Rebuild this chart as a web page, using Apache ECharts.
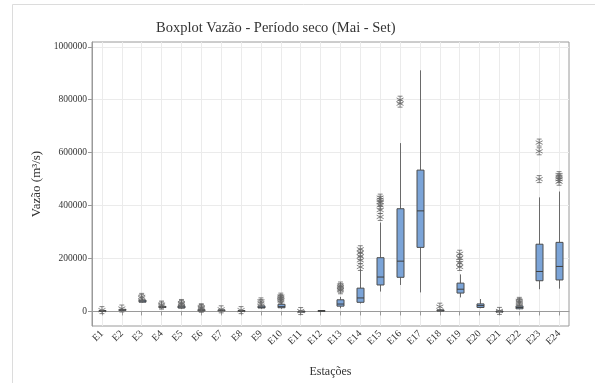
<!DOCTYPE html>
<html>
<head>
<meta charset="utf-8">
<script src="https://cdn.jsdelivr.net/npm/echarts@6/dist/echarts.min.js"></script>
<style>
html,body{margin:0;padding:0;background:#fff;}
#c{width:595px;height:383px;}
</style>
</head>
<body>
<div id="c"></div>
<script>
const categories = ['E1','E2','E3','E4','E5','E6','E7','E8','E9','E10','E11','E12','E13','E14','E15','E16','E17','E18','E19','E20','E21','E22','E23','E24'];
const whiskerLow = [500, 2000, 33000, 13000, 10000, 500, 1000, 500, 10000, 10000, 0, 1500, 12000, 30000, 75000, 100000, 72000, 0, 53000, 12000, 0, 8000, 84000, 86000];
const q1Values = [1500, 4000, 35000, 15000, 13000, 2000, 3000, 1500, 13000, 14000, 300, 2500, 20000, 34500, 100000, 129000, 242000, 1500, 69500, 15000, 500, 10000, 116000, 119000];
const medianValues = [2500, 6000, 39000, 17000, 17000, 4000, 4000, 2500, 16000, 18000, 600, 3000, 28000, 51000, 130000, 190000, 380000, 3000, 84000, 22000, 1000, 15000, 151000, 170000];
const q3Values = [3500, 8000, 43000, 19000, 21000, 7000, 6000, 3500, 21000, 27000, 1000, 3500, 44000, 88000, 203000, 388000, 534000, 6000, 107000, 28500, 1500, 21000, 254000, 261000];
const whiskerHigh = [5000, 11000, 47000, 22000, 26000, 9000, 8000, 5000, 28000, 35000, 1500, 4500, 55000, 160000, 336000, 636000, 911000, 10000, 140000, 47000, 2500, 27000, 431000, 453000];
const outliers = [
  [5000], [11000], [50000, 55000], [22000, 26000], [26000, 29000, 32000],
  [10000, 13000, 16000], [8000], [5000], [32000, 38000], [42000, 47000, 51000, 56000],
  [1500], [], [80000, 86000, 92000, 98000], [168000, 193000, 208000, 222000, 235000],
  [357000, 383000, 401000, 413000, 422000, 430000], [785000, 800000], [], [18000],
  [168000, 183000, 202000, 218000], [], [2000], [32000, 36000, 40000],
  [500000, 605000, 638000], [490000, 500000, 508000, 515000]
];
const yTicks = [0, 200000, 400000, 600000, 800000, 1000000];

const boxData = categories.map((c, i) => [i, whiskerLow[i], q1Values[i], medianValues[i], q3Values[i], whiskerHigh[i]]);
const outlierData = [];
outliers.forEach((arr, i) => arr.forEach(v => outlierData.push([i, v])));

const serif = '"Liberation Serif", "DejaVu Serif", serif';
const chart = echarts.init(document.getElementById('c'), null, {renderer: 'canvas'});
const starPath = 'path://M5,0L5,10M0.7,2.5L9.3,7.5M0.7,7.5L9.3,2.5M2,0L8,0M2,10L8,10';

chart.setOption({
  animation: false,
  backgroundColor: '#fff',
  title: {
    text: 'Boxplot Vazão - Período seco (Mai - Set)',
    left: 151, top: 16,
    textStyle: {fontFamily: serif, fontSize: 14.5, fontWeight: 'normal', color: '#333'}
  },
  graphic: [
    {type: 'line', shape: {x1: 12.5, y1: 4.5, x2: 595, y2: 4.5}, style: {stroke: '#dcdcdc', lineWidth: 1}, silent: true},
    {type: 'line', shape: {x1: 12.5, y1: 4.5, x2: 12.5, y2: 383}, style: {stroke: '#dcdcdc', lineWidth: 1}, silent: true}
  ],
  grid: {left: 92, right: 26, top: 42, bottom: 52, show: true, borderColor: '#9a9a9a', borderWidth: 1, backgroundColor: 'transparent'},
  xAxis: {
    type: 'category',
    data: categories,
    boundaryGap: true,
    name: 'Estações',
    nameLocation: 'middle',
    nameGap: 40,
    nameTextStyle: {fontFamily: serif, fontSize: 12, color: '#333'},
    axisLine: {show: true, lineStyle: {color: '#9a9a9a'}},
    axisTick: {show: true, alignWithLabel: true, length: 4, lineStyle: {color: '#9a9a9a'}},
    axisLabel: {rotate: 45, fontFamily: serif, fontSize: 10, color: '#333', margin: 6, interval: 0},
    splitLine: {show: true, alignWithLabel: true, lineStyle: {color: '#ebebeb', width: 1}}
  },
  yAxis: {
    type: 'value',
    min: -55000,
    max: 1018000,
    name: 'Vazão (m³/s)',
    nameLocation: 'middle',
    nameGap: 44,
    nameRotate: 90,
    nameTextStyle: {fontFamily: serif, fontSize: 13, color: '#333'},
    axisLine: {show: true, lineStyle: {color: '#9a9a9a'}},
    axisTick: {show: true, length: 4, customValues: yTicks, lineStyle: {color: '#9a9a9a'}},
    axisLabel: {customValues: yTicks, fontFamily: serif, fontSize: 9.5, color: '#333', margin: 5, formatter: v => String(v)},
    splitLine: {show: true, lineStyle: {color: '#ebebeb', width: 1}}
  },
  series: [
    {
      type: 'custom',
      data: boxData,
      encode: {x: 0, y: [1, 2, 3, 4, 5]},
      z: 3,
      renderItem: function (params, api) {
        const x = api.value(0);
        const lo = api.coord([x, api.value(1)]);
        const b1 = api.coord([x, api.value(2)]);
        const md = api.coord([x, api.value(3)]);
        const b3 = api.coord([x, api.value(4)]);
        const hi = api.coord([x, api.value(5)]);
        const w = 7;
        const cx = Math.round(lo[0]) + 0.5;
        return {
          type: 'group',
          children: [
            {type: 'line', shape: {x1: cx, y1: lo[1], x2: cx, y2: b1[1]}, style: {stroke: '#6a6a6a', lineWidth: 1}},
            {type: 'line', shape: {x1: cx, y1: b3[1], x2: cx, y2: hi[1]}, style: {stroke: '#6a6a6a', lineWidth: 1}},
            {type: 'rect', shape: {x: cx - w / 2, y: b3[1], width: w, height: Math.max(b1[1] - b3[1], 1)}, style: {fill: '#7ba4d8', stroke: '#4d4d4d', lineWidth: 1}},
            {type: 'line', shape: {x1: cx - w / 2, y1: md[1], x2: cx + w / 2, y2: md[1]}, style: {stroke: '#3f3f3f', lineWidth: 1}}
          ]
        };
      }
    },
    {
      type: 'scatter',
      data: outlierData,
      symbol: starPath,
      symbolSize: 7,
      z: 4,
      itemStyle: {color: 'transparent', borderColor: '#666', borderWidth: 1}
    }
  ]
});
</script>
</body>
</html>
